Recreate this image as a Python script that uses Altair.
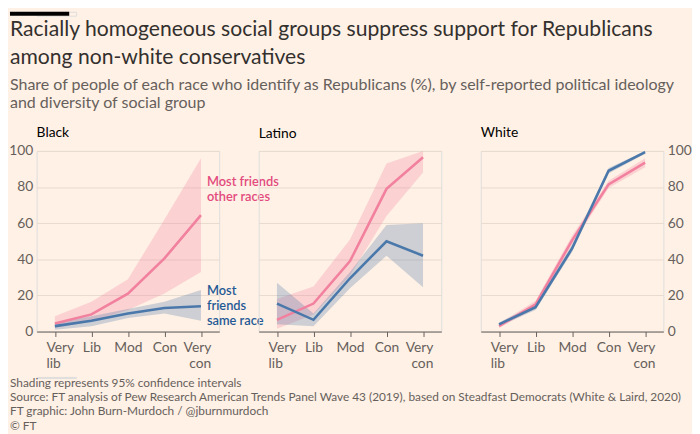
import altair as alt
import pandas as pd

categories = ["Very lib", "Lib", "Mod", "Con", "Very con"]
races = ["Black", "Latino", "White"]
groups = ["Most friends other races", "Most friends same race"]

# Share identifying as Republican (%), with 95% CI bounds
black_other = [4.5, 9.5, 21, 40.5, 64.5]
black_other_lo = [2, 5.5, 12, 21, 33]
black_other_hi = [8.5, 16.5, 29, 62, 96]
black_same = [3, 6, 10, 13, 14]
black_same_lo = [1, 3, 7.5, 10, 6]
black_same_hi = [5, 8.5, 12.5, 16.5, 23]

latino_other = [6.5, 15.5, 39, 79, 96.5]
latino_other_lo = [1.5, 9.5, 31, 64, 88]
latino_other_hi = [18, 25, 51, 93, 100]
latino_same = [15.5, 6.5, 29.5, 50, 42]
latino_same_lo = [4, 3, 24, 42, 24.5]
latino_same_hi = [27, 10, 33, 59, 60]

white_other = [3, 15, 50.5, 81.5, 93.5]
white_other_lo = [2, 13, 48, 79.5, 91]
white_other_hi = [4.5, 17, 53, 83.5, 96]
white_same = [4, 13.5, 46, 89, 99.3]
white_same_lo = [3, 12, 44, 87.5, 98.5]
white_same_hi = [5, 15, 48, 90.5, 100]

y_ticks = [0, 20, 40, 60, 80, 100]

title_lines = ["Racially homogeneous social groups suppress support for Republicans",
               "among non-white conservatives"]
subtitle_lines = ["Share of people of each race who identify as Republicans (%), by self-reported political ideology",
                  "and diversity of social group"]
footer_lines = ["Shading represents 95% confidence intervals",
                "Source: FT analysis of Pew Research American Trends Panel Wave 43 (2019), based on Steadfast Democrats (White & Laird, 2020)",
                "FT graphic: John Burn-Murdoch / @jburnmurdoch",
                "© FT"]
label_other = ["Most friends", "other races"]
label_same = ["Most", "friends", "same race"]
label_y = [82.5, 22.4]

series = {
    ("Black", groups[0]): (black_other, black_other_lo, black_other_hi),
    ("Black", groups[1]): (black_same, black_same_lo, black_same_hi),
    ("Latino", groups[0]): (latino_other, latino_other_lo, latino_other_hi),
    ("Latino", groups[1]): (latino_same, latino_same_lo, latino_same_hi),
    ("White", groups[0]): (white_other, white_other_lo, white_other_hi),
    ("White", groups[1]): (white_same, white_same_lo, white_same_hi),
}
rows = []
for (race, grp), (v, lo, hi) in series.items():
    for c, a, b, d in zip(categories, v, lo, hi):
        rows.append({"race": race, "group": grp, "ideology": c, "value": a, "lo": b, "hi": d})
df = pd.DataFrame(rows)

PINK = "#F2809F"
BLUE = "#4A78AA"
BG = "#FFF1E5"
GREY = "#66605C"
FONT = "Lato"
LEFT = 27  # width taken by left axis labels

W, H = 185, 183

label_align = {"condition": [{"test": "datum.value === 'Very lib'", "value": "left"},
                             {"test": "datum.value === 'Very con'", "value": "right"}],
               "value": "center"}
label_offset = {"condition": [{"test": "datum.value === 'Very lib'", "value": -9},
                              {"test": "datum.value === 'Very con'", "value": 10}],
                "value": 0}


def panel(race, orient):
    d = df[df.race == race]
    base = alt.Chart(d)
    xenc = alt.X("ideology:N", sort=categories, scale=alt.Scale(type="point", padding=0.5),
                 axis=alt.Axis(title=None, labelExpr="split(datum.label, ' ')", labelAngle=0,
                               labelLineHeight=16, labelFontSize=14, labelColor=GREY,
                               labelAlign=label_align, labelOffset=label_offset,
                               labelFont=FONT, domainColor=GREY, tickColor=GREY, tickSize=5,
                               labelPadding=4, grid=False))
    if orient == "none":
        yaxis = alt.Axis(title=None, labels=False, ticks=False, domain=False,
                         values=y_ticks, gridColor="#E8DACF")
    else:
        yaxis = alt.Axis(title=None, orient=orient, ticks=False, domain=False,
                         values=y_ticks, gridColor="#E8DACF", labelOverlap=False,
                         labelFontSize=14, labelColor=GREY, labelFont=FONT, labelPadding=4)
    yscale = alt.Scale(domain=[0, 100], nice=False)
    bands = [base.transform_filter(alt.datum.group == g).mark_area(opacity=0.28, color=c).encode(
        x=xenc, y=alt.Y("lo:Q", scale=yscale, axis=yaxis, stack=None), y2="hi:Q")
        for g, c in zip(groups, [PINK, BLUE])]
    lines = [base.transform_filter(alt.datum.group == g).mark_line(strokeWidth=2.6, color=c).encode(
        x=xenc, y=alt.Y("value:Q", scale=yscale, axis=yaxis))
        for g, c in zip(groups, [PINK, BLUE])]
    layers = bands + lines
    if race == "Black":
        ann = pd.DataFrame({"ideology": ["Very con", "Very con"], "y": label_y,
                            "group": groups})
        for i, (txt, col) in enumerate([(label_other, "#E34A7E"), (label_same, "#1F5A96")]):
            layers.append(alt.Chart(ann.iloc[[i]]).mark_text(
                align="left", baseline="middle", dx=6, fontSize=13, fontWeight=600,
                font=FONT, lineHeight=15, color=col).encode(
                x=xenc, y=alt.Y("y:Q", scale=yscale, axis=yaxis),
                text=alt.value(txt)))
    return alt.layer(*layers).properties(
        width=W, height=H,
        title=alt.TitleParams(race, anchor="start", frame="group", fontSize=14,
                              fontWeight="normal", color="#000000", font=FONT,
                              offset=(10 if orient == "none" else 4)))


panels = alt.hconcat(panel("Black", "left"), panel("Latino", "none"), panel("White", "right"),
                     spacing=40, bounds="flush")

bar_df = pd.DataFrame({"k": [0]})
header = alt.Chart(bar_df).mark_rect(color="#000000").encode(
    x=alt.value(-LEFT), x2=alt.value(60 - LEFT), y=alt.value(0), y2=alt.value(4)
).properties(width=40, height=4,
             title=alt.TitleParams(title_lines, subtitle=subtitle_lines, orient="bottom",
                                   anchor="start", frame="group", fontSize=21.4, fontWeight="normal",
                                   color="#33302E", font=FONT, lineHeight=28, dx=-LEFT,
                                   subtitleFontSize=16.2, subtitleColor=GREY, subtitleFont=FONT,
                                   subtitleLineHeight=18.3, subtitlePadding=9, offset=4))

footer = alt.Chart(bar_df).mark_rect(opacity=0).encode(
    x=alt.value(0), x2=alt.value(1), y=alt.value(0), y2=alt.value(1)
).properties(width=40, height=1,
             title=alt.TitleParams(footer_lines, orient="bottom", anchor="start", frame="group",
                                   fontSize=12, fontWeight="normal", color=GREY, font=FONT,
                                   lineHeight=14.5, offset=0, dx=-LEFT))

body = alt.vconcat(panels, footer, spacing=5)

chart = alt.vconcat(header, body, spacing=13).properties(
    background=BG, padding=0
).configure_view(stroke="transparent", strokeWidth=0).configure(font=FONT)

chart.save("out.html", embed_options={"renderer": "svg", "actions": False})
